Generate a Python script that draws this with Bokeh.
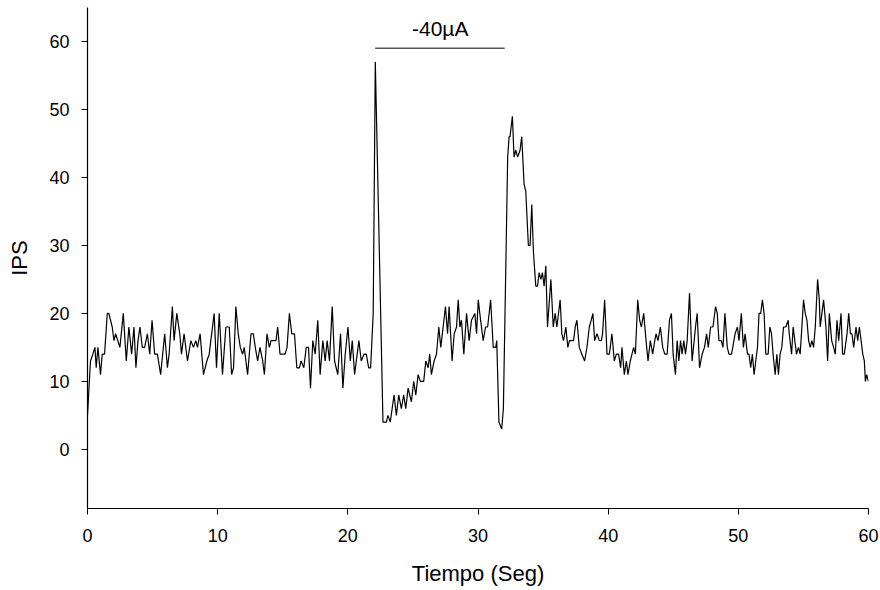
from bokeh.plotting import figure
from bokeh.models import ColumnDataSource, FixedTicker
from bokeh.core.properties import value
from bokeh.embed import file_html
from bokeh.resources import INLINE

# Time (s) and IPS values
tiempo = [
    0.00, 0.23, 0.41, 0.57, 0.67, 0.80, 1.00, 1.13, 1.31, 1.52, 1.64, 1.90, 2.03, 2.16, 2.49,
    2.75, 2.98, 3.18, 3.39, 3.57, 3.72, 3.88, 4.03, 4.21, 4.39, 4.60, 4.78, 4.96, 5.16, 5.37,
    5.62, 5.93, 6.14, 6.27, 6.52, 6.65, 6.86, 7.09, 7.22, 7.42, 7.68, 7.94, 8.14, 8.32, 8.45,
    8.65, 8.91, 9.17, 9.35, 9.73, 9.91, 10.12, 10.37, 10.63, 10.89,
    11.07, 11.22, 11.40, 11.58, 11.74, 11.92, 12.04, 12.30, 12.56, 12.74, 12.89, 13.07, 13.25,
    13.46, 13.59, 13.79, 13.97, 14.10, 14.28, 14.48, 14.61, 14.79, 15.00, 15.18, 15.33, 15.51,
    15.69, 15.90, 16.08, 16.28, 16.41, 16.62, 16.80, 16.98, 17.13, 17.31, 17.49, 17.69, 17.87,
    18.08, 18.26, 18.41, 18.59, 18.80, 18.98, 19.23, 19.44, 19.62, 19.80, 20.01, 20.19, 20.34,
    20.52, 20.65, 20.85, 21.03, 21.24, 21.42, 21.60, 21.75, 21.85, 21.95,
    22.11, 22.70, 22.96, 23.08, 23.26, 23.55, 23.73, 23.91, 24.11, 24.29, 24.45, 24.63, 24.88,
    25.06, 25.22, 25.40, 25.58, 25.83, 25.99, 26.17, 26.29, 26.42, 26.63, 26.81, 26.99, 27.14,
    27.32, 27.50, 27.66, 27.78, 28.01, 28.17, 28.35, 28.48, 28.61, 28.73, 28.91, 29.12, 29.32,
    29.50, 29.76, 29.89, 30.02, 30.20, 30.40, 30.58, 30.74, 30.97, 31.17, 31.36, 31.44, 31.61,
    31.82, 31.95,
    32.28, 32.39, 32.46, 32.64, 32.77, 32.90, 33.05, 33.23, 33.36, 33.54, 33.67, 33.87, 34.00,
    34.13, 34.26, 34.44, 34.57, 34.70, 34.83, 34.95, 35.08, 35.21, 35.34, 35.60, 35.78, 35.93,
    36.06, 36.31, 36.44, 36.57, 36.75, 36.90, 37.03, 37.21, 37.34, 37.47, 37.60, 37.78, 37.98,
    38.19, 38.37, 38.55, 38.70,
    38.83, 38.96, 39.14, 39.32, 39.47, 39.57, 39.73, 39.91, 40.09, 40.29, 40.47, 40.63, 40.80,
    40.96, 41.06, 41.24, 41.40, 41.52, 41.70, 41.83, 41.96, 42.09, 42.27, 42.42, 42.55, 42.73,
    42.91, 43.06, 43.24, 43.42, 43.58, 43.68, 43.83, 44.01, 44.19, 44.35, 44.53, 44.71, 44.86,
    44.99, 45.17, 45.30, 45.43, 45.56, 45.68, 45.81, 45.94, 46.07, 46.25, 46.45, 46.71, 46.84,
    47.02, 47.22, 47.40, 47.56, 47.69, 47.87, 48.05, 48.25, 48.38, 48.51, 48.69, 48.82, 48.97,
    49.15, 49.28, 49.48,
    49.75, 49.93, 50.05, 50.23, 50.39, 50.52, 50.70, 50.82, 50.95, 51.08, 51.21, 51.34, 51.47,
    51.59, 51.72, 51.85, 51.98, 52.11, 52.29, 52.42, 52.55, 52.67, 52.83, 52.96, 53.08, 53.21,
    53.34, 53.47, 53.65, 53.83, 53.91, 54.09, 54.21, 54.34, 54.47, 54.62, 54.75, 55.01, 55.14,
    55.27, 55.40, 55.52, 55.65, 55.78, 55.91, 56.09, 56.22, 56.29, 56.42, 56.55, 56.73, 56.86,
    56.99, 57.17, 57.32, 57.45, 57.58, 57.71, 57.89, 58.01, 58.14, 58.35, 58.48, 58.61, 58.73,
    58.86, 59.04, 59.17, 59.30, 59.43, 59.56, 59.68, 59.76, 59.86, 59.99,
]

ips = [
    5, 13, 14, 15, 12, 15, 11, 14, 14, 20, 20, 18, 16, 17, 15,
    20, 13, 18, 14, 18, 12, 16, 18, 15, 15, 17, 14, 19, 14, 14,
    11, 17, 12, 14, 21, 16, 20, 17, 14, 17, 13, 16, 15, 16, 15,
    17, 11, 13, 14, 20, 12, 20, 11, 18, 18,
    11, 12, 21, 17, 15, 14, 15, 11, 17, 17, 15, 13, 15,
    13, 11, 17, 15, 16, 16, 16, 18, 14, 14, 14, 15, 20,
    17, 17, 12, 12, 13, 12, 15, 15, 9, 16, 14, 19, 11,
    16, 13, 16, 13, 21, 13, 11, 17, 9, 14, 18, 13, 16,
    11, 13, 16, 13, 14, 14, 12, 12, 16, 20,
    57, 4, 4, 5, 4, 8, 5, 8, 6, 8, 6, 9, 7,
    10, 8, 11, 10, 10, 13, 12, 14, 11, 13, 14, 18, 15,
    18, 21, 17, 21, 13, 17, 18, 22, 18, 19, 14, 20, 16,
    19, 20, 17, 22, 19, 16, 18, 18, 22, 15, 15, 16, 4,
    3, 6,
    43, 46, 46, 49, 43, 44, 43, 44, 46, 39, 38, 30, 30,
    36, 29, 24, 24, 26, 25, 26, 24, 27, 18, 25, 18, 20,
    18, 22, 17, 16, 18, 15, 16, 16, 16, 18, 19, 15, 14,
    13, 15, 18, 19,
    20, 16, 17, 16, 16, 17, 22, 14, 14, 17, 13, 14, 14,
    12, 15, 11, 13, 11, 13, 14, 15, 14, 22, 19, 18, 20,
    16, 13, 16, 14, 16, 17, 16, 18, 15, 14, 14, 19, 20,
    14, 11, 16, 13, 16, 14, 16, 14, 16, 23, 13, 18, 20,
    12, 14, 15, 17, 15, 18, 18, 21, 20, 16, 16, 15, 20,
    15, 14, 14,
    17, 18, 16, 20, 15, 17, 14, 14, 12, 14, 11, 13, 15,
    20, 20, 22, 20, 14, 14, 18, 17, 14, 11, 14, 11, 14,
    15, 18, 18, 19, 17, 14, 18, 16, 14, 15, 14, 22, 20,
    19, 16, 15, 16, 15, 18, 25, 22, 18, 20, 22, 18, 13,
    20, 16, 15, 14, 19, 16, 20, 14, 14, 17, 20, 17, 17,
    15, 18, 16, 18, 16, 14, 13, 10, 11, 10,
]

# Stimulus bar and its label
estimulo_x = [22.1, 32.05]
estimulo_y = [59, 59]
estimulo_texto = ["-40µA"]
estimulo_tx = [27.1]
estimulo_ty = [60.2]

x_ticks = [0, 10, 20, 30, 40, 50, 60]
y_ticks = [0, 10, 20, 30, 40, 50, 60]

FONT = "Liberation Sans"

p = figure(width=880, height=590, output_backend="svg", toolbar_location=None,
           x_range=(0, 60), y_range=(-8.7, 65),
           min_border_left=87, min_border_right=12, min_border_top=7, min_border_bottom=82)

src = ColumnDataSource(dict(t=tiempo, v=ips))
p.line("t", "v", source=src, line_color="black", line_width=1.2)

p.line(estimulo_x, estimulo_y, line_color="#555555", line_width=1.5)
p.text(x=estimulo_tx, y=estimulo_ty, text=estimulo_texto, text_align="center",
       text_baseline="bottom", text_font=value(FONT), text_font_size="21px",
       text_color="black")

p.outline_line_color = None
p.xgrid.visible = False
p.ygrid.visible = False
p.background_fill_color = "white"
p.border_fill_color = "white"

p.xaxis.ticker = FixedTicker(ticks=x_ticks)
p.yaxis.ticker = FixedTicker(ticks=y_ticks)
for ax in (p.xaxis[0], p.yaxis[0]):
    ax.axis_line_color = "black"
    ax.axis_line_width = 1.2
    ax.major_tick_in = 0
    ax.major_tick_out = 6
    ax.major_tick_line_color = "black"
    ax.minor_tick_line_color = None
    ax.major_label_text_font = FONT
    ax.major_label_text_font_size = "18px"
    ax.major_label_text_color = "black"
    ax.axis_label_text_font = FONT
    ax.axis_label_text_font_size = "22px"
    ax.axis_label_text_font_style = "normal"
    ax.axis_label_text_color = "black"

p.xaxis.axis_label = "Tiempo (Seg)"
p.yaxis.axis_label = "IPS"
p.xaxis.major_label_standoff = 14
p.xaxis.axis_label_standoff = 16
p.yaxis.major_label_standoff = 12
p.yaxis.axis_label_standoff = 14

open("out.html", "w").write(file_html(p, INLINE))
